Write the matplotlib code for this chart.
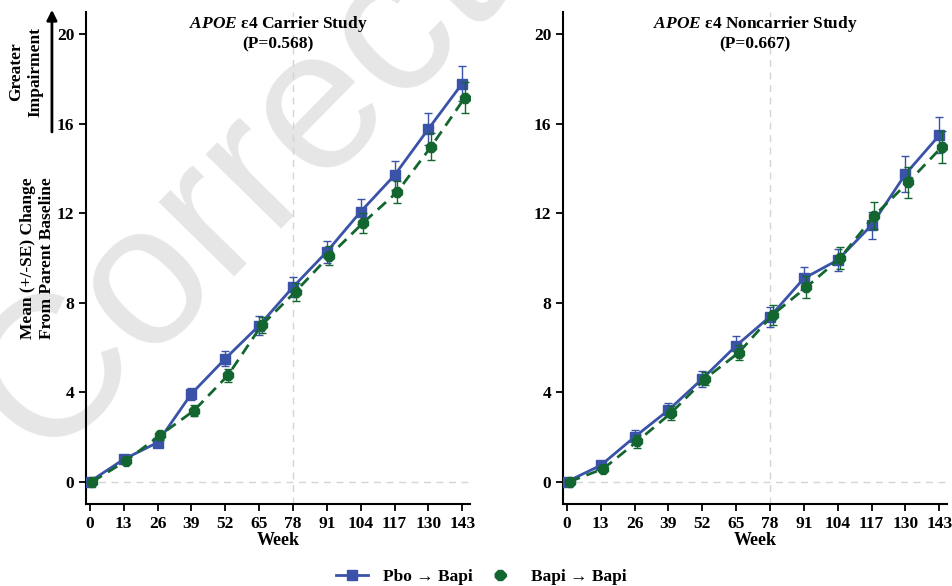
import matplotlib
matplotlib.use("Agg")
import matplotlib.pyplot as plt
from matplotlib.lines import Line2D

plt.rcParams['font.family'] = ['Liberation Serif', 'DejaVu Serif']
plt.rcParams['font.weight'] = 'bold'
plt.rcParams['axes.labelweight'] = 'bold'
plt.rcParams['mathtext.fontset'] = 'custom'
plt.rcParams['mathtext.it'] = 'Liberation Serif:bold:italic'
plt.rcParams['mathtext.rm'] = 'Liberation Serif:bold'

weeks = [0, 13, 26, 39, 52, 65, 78, 91, 104, 117, 130, 143]

# carrier study
car_pbo = [0, 1.0, 1.75, 3.93, 5.5, 6.98, 8.7, 10.28, 12.07, 13.7, 15.77, 17.8]
car_pbo_se = [0, 0.15, 0.15, 0.27, 0.33, 0.42, 0.45, 0.5, 0.55, 0.65, 0.7, 0.8]
car_bapi = [0, 0.94, 2.08, 3.18, 4.75, 7.0, 8.5, 10.1, 11.58, 12.95, 14.97, 17.17]
car_bapi_se = [0, 0.15, 0.2, 0.26, 0.3, 0.35, 0.4, 0.42, 0.45, 0.5, 0.6, 0.68]

# noncarrier study
non_pbo = [0, 0.73, 2.0, 3.2, 4.6, 6.08, 7.38, 9.09, 9.91, 11.47, 13.75, 15.49]
non_pbo_se = [0, 0.15, 0.3, 0.3, 0.35, 0.45, 0.45, 0.5, 0.5, 0.6, 0.8, 0.8]
non_bapi = [0, 0.58, 1.8, 3.07, 4.6, 5.77, 7.46, 8.7, 10.01, 11.89, 13.38, 14.97]
non_bapi_se = [0, 0.15, 0.3, 0.3, 0.3, 0.35, 0.45, 0.5, 0.5, 0.6, 0.7, 0.7]

titles = [r"$\mathit{APOE}$ ε4 Carrier Study" + "\n(P=0.568)",
          r"$\mathit{APOE}$ ε4 Noncarrier Study" + "\n(P=0.667)"]
yticks = [0, 4, 8, 12, 16, 20]

BLUE = '#3a52a8'
GREEN = '#13662f'

fig = plt.figure(figsize=(9.53, 5.86), dpi=100)

# watermark behind everything
fig.text(0.249, 0.676, 'Correct', rotation=45.5, fontsize=145, color='#e6e6e6',
         family='Liberation Sans', weight='normal', ha='center', va='center', zorder=-5)

panels = [
    (0.0902, car_pbo, car_pbo_se, car_bapi, car_bapi_se),
    (0.5908, non_pbo, non_pbo_se, non_bapi, non_bapi_se),
]

for i, (left, pbo, pbo_se, bapi, bapi_se) in enumerate(panels):
    ax = fig.add_axes([left, 0.1399, 0.403, 0.8396])
    ax.patch.set_alpha(0)
    ax.axhline(0, color='#d4d4d4', lw=1, ls=(0, (5, 4)), zorder=1)
    ax.axvline(78, color='#d4d4d4', lw=1, ls=(0, (5, 4)), zorder=1)

    ax.errorbar(weeks, pbo, yerr=pbo_se, color=BLUE, lw=2, marker='s', ms=7,
                capsize=3, elinewidth=1, capthick=1, zorder=3)
    ax.errorbar([w + 1 for w in weeks], bapi, yerr=bapi_se, color=GREEN, lw=2,
                ls=(0, (4, 2.5)), marker='8', ms=7.5, capsize=3, elinewidth=1,
                capthick=1, zorder=4)

    ax.set_xlim(-1.5, 146)
    ax.set_ylim(-1, 21)
    ax.set_xticks(weeks)
    ax.set_yticks(yticks)
    ax.tick_params(labelsize=12.5, length=5, width=1.3, direction='out')
    for s in ['top', 'right']:
        ax.spines[s].set_visible(False)
    for s in ['left', 'bottom']:
        ax.spines[s].set_linewidth(1.5)
    ax.set_xlabel('Week', fontsize=13, labelpad=0)
    ax.text(0.5, 0.995, titles[i], transform=ax.transAxes, ha='center', va='top',
            fontsize=12.5, linespacing=1.15)

fig.text(0.039, 0.56, 'Mean (+/-SE) Change\nFrom Parent Baseline', rotation=90,
         ha='center', va='center', fontsize=12.5, linespacing=1.25)
fig.text(0.027, 0.877, 'Greater\nImpairment', rotation=90, ha='center', va='center',
         fontsize=12.5, linespacing=1.25)
fig.add_artist(plt.Annotation('', xy=(0.0545, 0.988), xytext=(0.0545, 0.77),
                              xycoords='figure fraction',
                              arrowprops=dict(arrowstyle='-|>', color='black', lw=2,
                                              mutation_scale=15)))

handles = [
    Line2D([], [], color=BLUE, lw=2, marker='s', ms=7),
    Line2D([], [], color=GREEN, lw=2.5, ls=(0, (0.01, 2.9, 3.6, 100)), marker='8', ms=7.5),
]
fig.legend(handles, ['Pbo → Bapi', 'Bapi → Bapi'], loc='lower center',
           bbox_to_anchor=(0.505, -0.025), ncol=2, frameon=False, fontsize=12.5,
           handlelength=1.85, handletextpad=0.9, columnspacing=0.6)

fig.savefig('out.png', dpi=100)
